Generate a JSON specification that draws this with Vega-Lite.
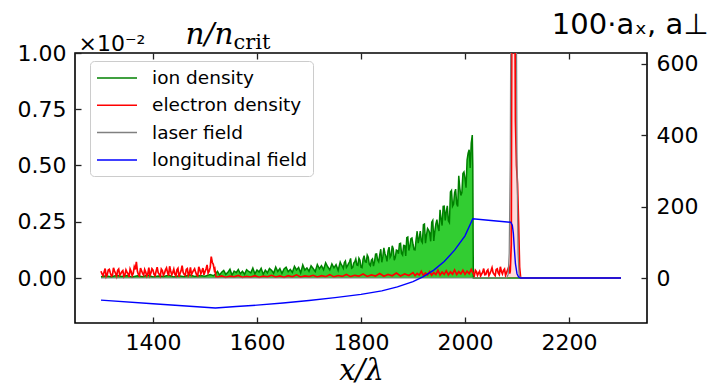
{
  "$schema": "https://vega.github.io/schema/vega-lite/v6.json",
  "width": 572,
  "height": 270,
  "autosize": "none",
  "padding": {"left": 75, "top": 53, "right": 64, "bottom": 64},
  "background": "white",
  "config": {
    "view": {"stroke": "#000", "strokeWidth": 1.6},
    "axis": {"domain": false, "grid": false, "zindex": 1, "labelFont": "DejaVu Sans", "labelFontSize": 22, "labelColor": "#000", "tickColor": "#222", "tickSize": 6, "tickWidth": 1.3, "offset": -6, "titleFontWeight": "normal", "titleColor": "#000"}
  },
  "datasets": {
    "ion": [
      {"x":1300,"v":0.006},{"x":1310,"v":0.010},{"x":1320,"v":0.005},{"x":1330,"v":0.012},{"x":1340,"v":0.007},{"x":1350,"v":0.011},{"x":1360,"v":0.004},{"x":1370,"v":0.010},{"x":1380,"v":0.006},{"x":1390,"v":0.013},{"x":1400,"v":0.005},{"x":1410,"v":0.009},{"x":1420,"v":0.007},{"x":1430,"v":0.012},{"x":1440,"v":0.005},{"x":1450,"v":0.010},{"x":1460,"v":0.006},{"x":1470,"v":0.014},{"x":1480,"v":0.007},{"x":1490,"v":0.011},{"x":1500,"v":0.008},{"x":1510,"v":0.015},{"x":1516,"v":0.010},
      {"x":1520,"v":0.018},{"x":1524,"v":0.030},{"x":1528,"v":0.013},{"x":1532,"v":0.026},{"x":1536,"v":0.034},{"x":1540,"v":0.016},{"x":1544,"v":0.025},{"x":1548,"v":0.039},{"x":1552,"v":0.012},{"x":1556,"v":0.031},{"x":1560,"v":0.024},{"x":1564,"v":0.038},{"x":1568,"v":0.019},{"x":1572,"v":0.030},{"x":1576,"v":0.016},{"x":1580,"v":0.037},{"x":1584,"v":0.029},{"x":1588,"v":0.023},{"x":1592,"v":0.044},{"x":1596,"v":0.018},{"x":1600,"v":0.036},
      {"x":1604,"v":0.027},{"x":1608,"v":0.043},{"x":1612,"v":0.016},{"x":1616,"v":0.035},{"x":1620,"v":0.023},{"x":1624,"v":0.042},{"x":1628,"v":0.034},{"x":1632,"v":0.021},{"x":1636,"v":0.049},{"x":1640,"v":0.029},{"x":1644,"v":0.042},{"x":1648,"v":0.020},{"x":1652,"v":0.040},{"x":1656,"v":0.048},{"x":1660,"v":0.028},{"x":1664,"v":0.038},{"x":1668,"v":0.025},{"x":1672,"v":0.052},{"x":1676,"v":0.036},{"x":1680,"v":0.047},{"x":1684,"v":0.023},{"x":1688,"v":0.058},{"x":1692,"v":0.035},{"x":1696,"v":0.045},{"x":1700,"v":0.030},
      {"x":1704,"v":0.054},{"x":1708,"v":0.042},{"x":1712,"v":0.029},{"x":1716,"v":0.060},{"x":1720,"v":0.041},{"x":1724,"v":0.055},{"x":1728,"v":0.037},{"x":1732,"v":0.068},{"x":1736,"v":0.050},{"x":1740,"v":0.036},{"x":1744,"v":0.063},{"x":1748,"v":0.045},{"x":1752,"v":0.059},{"x":1756,"v":0.034},{"x":1760,"v":0.071},
      {"x":1762,"v":0.060},{"x":1764,"v":0.053},{"x":1766,"v":0.043},{"x":1768,"v":0.069},{"x":1770,"v":0.076},{"x":1772,"v":0.047},{"x":1774,"v":0.054},{"x":1776,"v":0.064},{"x":1778,"v":0.072},{"x":1780,"v":0.087},{"x":1782,"v":0.043},{"x":1784,"v":0.046},{"x":1786,"v":0.066},{"x":1788,"v":0.072},{"x":1790,"v":0.085},{"x":1792,"v":0.058},{"x":1794,"v":0.056},{"x":1796,"v":0.088},{"x":1798,"v":0.079},{"x":1800,"v":0.048},{"x":1802,"v":0.046},{"x":1804,"v":0.084},{"x":1806,"v":0.099},{"x":1808,"v":0.072},{"x":1810,"v":0.070},{"x":1812,"v":0.102},{"x":1814,"v":0.092},{"x":1816,"v":0.061},{"x":1818,"v":0.055},{"x":1820,"v":0.080},
      {"x":1822,"v":0.085},{"x":1824,"v":0.053},{"x":1826,"v":0.073},{"x":1828,"v":0.106},{"x":1830,"v":0.107},{"x":1832,"v":0.080},{"x":1834,"v":0.072},{"x":1836,"v":0.103},{"x":1838,"v":0.128},{"x":1840,"v":0.070},{"x":1842,"v":0.095},{"x":1844,"v":0.134},{"x":1846,"v":0.109},{"x":1848,"v":0.096},{"x":1850,"v":0.074},{"x":1852,"v":0.121},{"x":1854,"v":0.137},{"x":1856,"v":0.092},{"x":1858,"v":0.101},{"x":1860,"v":0.143},{"x":1862,"v":0.130},{"x":1864,"v":0.079},{"x":1866,"v":0.092},{"x":1868,"v":0.124},{"x":1870,"v":0.122},{"x":1872,"v":0.108},{"x":1874,"v":0.152},{"x":1876,"v":0.154},{"x":1878,"v":0.109},{"x":1880,"v":0.102},
      {"x":1882,"v":0.145},{"x":1884,"v":0.144},{"x":1886,"v":0.098},{"x":1888,"v":0.179},{"x":1890,"v":0.182},{"x":1892,"v":0.122},{"x":1894,"v":0.142},{"x":1896,"v":0.175},{"x":1898,"v":0.178},{"x":1900,"v":0.150},{"x":1902,"v":0.126},{"x":1904,"v":0.125},{"x":1906,"v":0.172},{"x":1908,"v":0.208},{"x":1910,"v":0.155},{"x":1912,"v":0.177},{"x":1914,"v":0.208},{"x":1916,"v":0.164},{"x":1918,"v":0.157},{"x":1920,"v":0.237},{"x":1922,"v":0.240},{"x":1924,"v":0.155},{"x":1926,"v":0.192},{"x":1928,"v":0.220},{"x":1930,"v":0.213},{"x":1932,"v":0.201},{"x":1934,"v":0.163},{"x":1936,"v":0.248},{"x":1938,"v":0.256},{"x":1940,"v":0.165},
      {"x":1942,"v":0.208},{"x":1944,"v":0.241},{"x":1946,"v":0.259},{"x":1948,"v":0.226},{"x":1950,"v":0.209},{"x":1952,"v":0.303},{"x":1954,"v":0.263},{"x":1956,"v":0.233},{"x":1958,"v":0.318},{"x":1960,"v":0.319},{"x":1962,"v":0.256},{"x":1964,"v":0.295},{"x":1966,"v":0.321},{"x":1968,"v":0.254},{"x":1970,"v":0.246},{"x":1972,"v":0.382},{"x":1974,"v":0.389},{"x":1976,"v":0.319},{"x":1978,"v":0.328},{"x":1980,"v":0.379},{"x":1982,"v":0.395},{"x":1984,"v":0.330},{"x":1986,"v":0.318},{"x":1988,"v":0.454},{"x":1990,"v":0.400},{"x":1992,"v":0.367},{"x":1994,"v":0.380},{"x":1996,"v":0.464},{"x":1998,"v":0.471},{"x":2000,"v":0.443},{"x":2002,"v":0.401},{"x":2004,"v":0.524},{"x":2006,"v":0.555},{"x":2008,"v":0.570},{"x":2010,"v":0.489},{"x":2012,"v":0.600},{"x":2014,"v":0.635},{"x":2015,"v":0.50},{"x":2016,"v":0},{"x":2300,"v":0}
    ],
    "ele": [
      {"x":1300,"v":0.030},{"x":1302,"v":0.018},{"x":1304,"v":0.010},{"x":1306,"v":0.027},{"x":1308,"v":0.042},{"x":1310,"v":0.006},{"x":1312,"v":0.015},{"x":1314,"v":0.035},{"x":1316,"v":0.038},{"x":1318,"v":0.022},{"x":1320,"v":0.008},{"x":1322,"v":0.012},{"x":1324,"v":0.045},{"x":1326,"v":0.031},{"x":1328,"v":0.020},{"x":1330,"v":0.007},{"x":1332,"v":0.034},{"x":1334,"v":0.040},{"x":1336,"v":0.012},{"x":1338,"v":0.019},{"x":1340,"v":0.028},{"x":1342,"v":0.033},{"x":1344,"v":0.006},{"x":1346,"v":0.014},{"x":1348,"v":0.036},{"x":1350,"v":0.026},{"x":1352,"v":0.018},{"x":1354,"v":0.005},{"x":1356,"v":0.040},{"x":1358,"v":0.029},{"x":1360,"v":0.010},{"x":1362,"v":0.021},{"x":1364,"v":0.050},{"x":1366,"v":0.038},{"x":1368,"v":0.072},{"x":1370,"v":0.030},{"x":1372,"v":0.015},{"x":1374,"v":0.009},{"x":1376,"v":0.044},{"x":1378,"v":0.032},{"x":1380,"v":0.020},{"x":1382,"v":0.012},{"x":1384,"v":0.038},{"x":1386,"v":0.027},{"x":1388,"v":0.008},{"x":1390,"v":0.018},{"x":1392,"v":0.046},{"x":1394,"v":0.011},{"x":1396,"v":0.022},{"x":1398,"v":0.041},{"x":1400,"v":0.035},{"x":1402,"v":0.016},{"x":1404,"v":0.010},{"x":1406,"v":0.030},{"x":1408,"v":0.048},{"x":1410,"v":0.024},{"x":1412,"v":0.016},{"x":1414,"v":0.008},{"x":1416,"v":0.040},{"x":1418,"v":0.033},{"x":1420,"v":0.012},{"x":1422,"v":0.020},{"x":1424,"v":0.036},{"x":1426,"v":0.045},{"x":1428,"v":0.024},{"x":1430,"v":0.010},{"x":1432,"v":0.052},{"x":1434,"v":0.031},{"x":1436,"v":0.014},{"x":1438,"v":0.024},{"x":1440,"v":0.039},{"x":1442,"v":0.017},{"x":1444,"v":0.009},{"x":1446,"v":0.036},{"x":1448,"v":0.043},{"x":1450,"v":0.006},{"x":1452,"v":0.020},{"x":1454,"v":0.032},{"x":1456,"v":0.055},{"x":1458,"v":0.025},{"x":1460,"v":0.016},{"x":1462,"v":0.012},{"x":1464,"v":0.038},{"x":1466,"v":0.042},{"x":1468,"v":0.011},{"x":1470,"v":0.021},{"x":1472,"v":0.047},{"x":1474,"v":0.015},{"x":1476,"v":0.025},{"x":1478,"v":0.034},{"x":1480,"v":0.041},{"x":1482,"v":0.026},{"x":1484,"v":0.013},{"x":1486,"v":0.009},{"x":1488,"v":0.050},{"x":1490,"v":0.037},{"x":1492,"v":0.019},{"x":1494,"v":0.030},{"x":1496,"v":0.044},{"x":1498,"v":0.014},{"x":1500,"v":0.028},{"x":1502,"v":0.040},{"x":1504,"v":0.058},{"x":1506,"v":0.022},{"x":1508,"v":0.030},{"x":1510,"v":0.047},{"x":1512,"v":0.095},{"x":1514,"v":0.070},{"x":1516,"v":0.060},{"x":1518,"v":0.035},{"x":1519,"v":0.040},
      {"x":1521,"v":0.005},{"x":1524,"v":0.004},{"x":1532,"v":0.009},{"x":1540,"v":0.003},{"x":1548,"v":0.008},{"x":1556,"v":0.005},{"x":1564,"v":0.011},{"x":1572,"v":0.003},{"x":1580,"v":0.007},{"x":1588,"v":0.004},{"x":1596,"v":0.010},{"x":1604,"v":0.003},{"x":1612,"v":0.008},{"x":1620,"v":0.005},{"x":1628,"v":0.012},{"x":1636,"v":0.004},{"x":1644,"v":0.009},{"x":1652,"v":0.003},{"x":1660,"v":0.010},{"x":1668,"v":0.005},{"x":1676,"v":0.014},{"x":1684,"v":0.004},{"x":1692,"v":0.009},{"x":1700,"v":0.006},{"x":1708,"v":0.012},{"x":1716,"v":0.004},{"x":1724,"v":0.010},{"x":1732,"v":0.006},{"x":1740,"v":0.015},{"x":1748,"v":0.005},{"x":1756,"v":0.011},{"x":1764,"v":0.007},{"x":1772,"v":0.016},{"x":1780,"v":0.006},{"x":1788,"v":0.012},{"x":1796,"v":0.008},{"x":1804,"v":0.018},{"x":1812,"v":0.007},{"x":1820,"v":0.014},{"x":1828,"v":0.009},{"x":1836,"v":0.020},{"x":1844,"v":0.008},{"x":1852,"v":0.016},{"x":1860,"v":0.010},{"x":1868,"v":0.022},{"x":1876,"v":0.009},{"x":1884,"v":0.018},{"x":1892,"v":0.011},{"x":1900,"v":0.024},
      {"x":1904,"v":0.010},{"x":1908,"v":0.020},{"x":1912,"v":0.013},{"x":1916,"v":0.030},{"x":1920,"v":0.011},{"x":1924,"v":0.022},{"x":1928,"v":0.014},{"x":1932,"v":0.028},{"x":1936,"v":0.012},{"x":1940,"v":0.024},{"x":1944,"v":0.015},{"x":1948,"v":0.034},{"x":1952,"v":0.013},{"x":1956,"v":0.026},{"x":1960,"v":0.016},{"x":1964,"v":0.032},{"x":1968,"v":0.014},{"x":1972,"v":0.027},{"x":1976,"v":0.017},{"x":1980,"v":0.036},{"x":1984,"v":0.015},{"x":1988,"v":0.028},{"x":1992,"v":0.018},{"x":1996,"v":0.034},{"x":2000,"v":0.016},{"x":2004,"v":0.030},{"x":2008,"v":0.019},{"x":2012,"v":0.038},{"x":2016,"v":0.020},{"x":2018,"v":0.010},{"x":2020,"v":0.034},{"x":2022,"v":0.028},{"x":2024,"v":0.012},{"x":2026,"v":0.022},{"x":2028,"v":0.030},{"x":2030,"v":0.009},{"x":2032,"v":0.018},{"x":2034,"v":0.026},{"x":2036,"v":0.042},{"x":2038,"v":0.014},{"x":2040,"v":0.015},{"x":2042,"v":0.030},{"x":2044,"v":0.036},{"x":2046,"v":0.011},{"x":2048,"v":0.020},{"x":2050,"v":0.032},{"x":2052,"v":0.046},{"x":2054,"v":0.024},{"x":2056,"v":0.016},{"x":2058,"v":0.010},{"x":2060,"v":0.038},{"x":2062,"v":0.041},{"x":2064,"v":0.022},{"x":2066,"v":0.015},{"x":2068,"v":0.050},{"x":2070,"v":0.029},{"x":2072,"v":0.018},{"x":2074,"v":0.034},{"x":2076,"v":0.040},{"x":2078,"v":0.012},{"x":2080,"v":0.024},{"x":2082,"v":0.036},{"x":2084,"v":0.048},{"x":2086,"v":0.020},{"x":2087,"v":0.030},
      {"x":2089,"v":0.15},{"x":2090,"v":1.2},{"x":2092,"v":2.5},{"x":2094,"v":2.0},{"x":2096,"v":1.2},{"x":2097,"v":0.7},{"x":2099,"v":0.5},{"x":2101,"v":0.42},{"x":2103,"v":0.25},{"x":2105,"v":0.05},{"x":2107,"v":0},{"x":2300,"v":0}
    ],
    "laser": [
      {"x":1300,"v":0},{"x":2080,"v":0},{"x":2083,"v":10},{"x":2085,"v":70},{"x":2087,"v":333},{"x":2089,"v":1047},{"x":2091,"v":2170},{"x":2093,"v":2960},{"x":2094,"v":2960},{"x":2096,"v":2170},{"x":2098,"v":1047},{"x":2100,"v":333},{"x":2102,"v":70},{"x":2104,"v":10},{"x":2107,"v":0},{"x":2300,"v":0}
    ],
    "long": [
      {"x":1300,"v":-62},{"x":1400,"v":-72},{"x":1520,"v":-84},{"x":1560,"v":-80},{"x":1600,"v":-76},{"x":1650,"v":-70},{"x":1700,"v":-63},{"x":1750,"v":-55},{"x":1800,"v":-46},{"x":1840,"v":-36},{"x":1870,"v":-25},{"x":1900,"v":-10},{"x":1920,"v":4},{"x":1940,"v":22},{"x":1960,"v":46},{"x":1980,"v":78},{"x":2000,"v":118},{"x":2015,"v":166},{"x":2050,"v":161},{"x":2088,"v":156},{"x":2091,"v":148},{"x":2093,"v":125},{"x":2095,"v":80},{"x":2097,"v":40},{"x":2100,"v":12},{"x":2103,"v":3},{"x":2107,"v":0},{"x":2300,"v":0}
    ]
  },
  "layer": [
    {
      "encoding": {
        "x": {"field": "x", "type": "quantitative", "scale": {"domain": [1250, 2350], "nice": false, "zero": false},
          "axis": {"orient": "bottom", "values": [1400, 1600, 1800, 2000, 2200], "format": "d", "labelPadding": 9, "title": "x/λ", "titleFont": "DejaVu Serif", "titleFontStyle": "italic", "titleFontSize": 29, "titleY": 62, "titleBaseline": "alphabetic"}},
        "y": {"field": "v", "type": "quantitative", "scale": {"domain": [-0.2, 1.0], "nice": false, "zero": false},
          "axis": {"orient": "left", "values": [0, 0.25, 0.5, 0.75, 1], "format": ".2f", "labelPadding": 9, "title": "×10⁻²", "titleAngle": 0, "titleAlign": "left", "titleBaseline": "alphabetic", "titleX": -3, "titleY": -3, "titleFont": "DejaVu Sans", "titleFontSize": 22}}
      },
      "layer": [
        {"data": {"name": "ion"}, "mark": {"type": "area", "color": "#32cd32", "clip": true}, "encoding": {"y2": {"datum": 0}}},
        {"data": {"name": "ion"}, "mark": {"type": "line", "strokeWidth": 1.5, "clip": true},
          "encoding": {"color": {"datum": "ion density", "type": "nominal",
            "scale": {"domain": ["ion density", "electron density", "laser field", "longitudinal field"], "range": ["#008000", "#ff0000", "#808080", "#0000ff"]},
            "legend": {"orient": "none", "legendX": 15, "legendY": 8, "title": null, "symbolType": "M-1,0H3", "symbolSize": 400, "symbolStrokeWidth": 1.5, "labelFont": "DejaVu Sans", "labelFontSize": 18.5, "labelColor": "#000", "labelOffset": 34, "rowPadding": 6.3, "padding": 6, "fillColor": "rgba(255,255,255,0.85)", "strokeColor": "#cccccc", "cornerRadius": 4}}}},
        {"data": {"name": "ele"}, "mark": {"type": "line", "strokeWidth": 1.7, "clip": true}, "encoding": {"color": {"datum": "electron density", "type": "nominal"}}}
      ]
    },
    {
      "encoding": {
        "x": {"field": "x", "type": "quantitative", "scale": {"domain": [1250, 2350], "nice": false, "zero": false},
          "axis": {"orient": "top", "values": [1400, 1600, 1800, 2000, 2200], "labels": false, "title": "n/n", "titleX": 110, "titleY": -16, "titleAlign": "left", "titleBaseline": "alphabetic", "titleFont": "DejaVu Serif", "titleFontStyle": "italic", "titleFontSize": 29.5}},
        "y": {"field": "v", "type": "quantitative", "scale": {"domain": [-126, 630], "nice": false, "zero": false},
          "axis": {"orient": "right", "values": [0, 200, 400, 600], "labelPadding": 9, "title": "100·aₓ, a⊥", "titleAngle": 0, "titleAlign": "right", "titleBaseline": "alphabetic", "titleX": 67, "titleY": -20, "titleFont": "DejaVu Sans", "titleFontSize": 29}}
      },
      "layer": [
        {"data": {"name": "laser"}, "mark": {"type": "area", "color": "#ff0000", "opacity": 0.14, "clip": true}, "encoding": {"y2": {"datum": 0}}},
        {"data": {"name": "laser"}, "mark": {"type": "line", "strokeWidth": 1.2, "clip": true}, "encoding": {"color": {"datum": "laser field", "type": "nominal"}}},
        {"data": {"name": "long"}, "mark": {"type": "line", "strokeWidth": 1.4, "clip": true}, "encoding": {"color": {"datum": "longitudinal field", "type": "nominal"}}}
      ]
    },
    {
      "data": {"name": "long"},
      "mark": {"type": "line", "opacity": 0},
      "encoding": {
        "x": {"field": "x", "type": "quantitative", "scale": {"domain": [1250, 2350], "nice": false, "zero": false},
          "axis": {"orient": "top", "offset": 0, "ticks": false, "labels": false, "domain": false, "title": "crit", "titleX": 158, "titleY": -5, "titleAlign": "left", "titleBaseline": "alphabetic", "titleFont": "DejaVu Serif", "titleFontSize": 21}},
        "y": {"field": "v", "type": "quantitative", "axis": null}
      }
    }
  ],
  "resolve": {"scale": {"y": "independent"}, "axis": {"x": "independent", "y": "independent"}}
}
